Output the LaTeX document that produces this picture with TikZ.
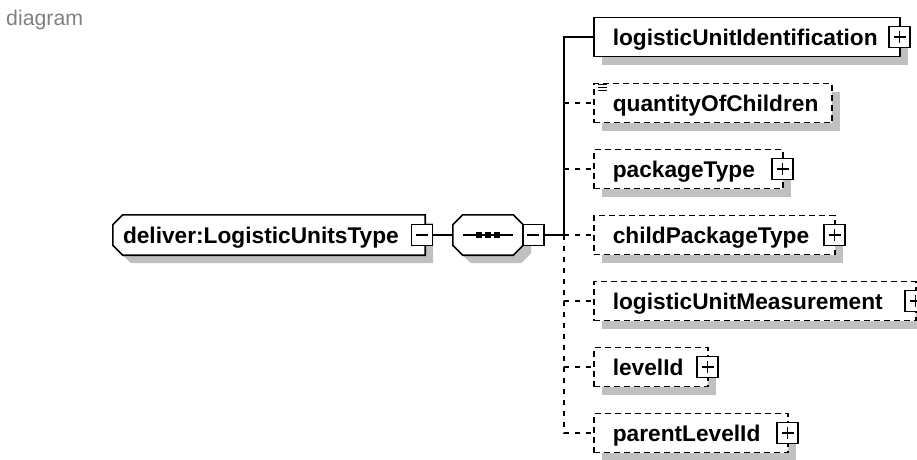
\documentclass[tikz,border=0pt]{standalone}
\usepackage{fontspec}
\setmainfont{Liberation Sans}
\usetikzlibrary{shadows,backgrounds}
\definecolor{shd}{RGB}{192,192,192}
\definecolor{cap}{RGB}{128,128,128}

\begin{document}
\begin{tikzpicture}[x=1pt,y=-1pt,
  lbl/.style={font=\fontsize{22.7}{27}\selectfont\bfseries,text height=16pt,text depth=0pt},
  shade/.style={drop shadow={shadow xshift=8pt,shadow yshift=-8pt,fill=shd,opacity=1}},
  elem/.style={lbl,draw,line width=1.6pt,fill=white,shade,anchor=west,inner xsep=19pt,inner ysep=0pt,minimum height=39pt,align=left},
  opt/.style={elem,dash pattern=on 6pt off 4pt},
  shadowpart/.style={fill=shd,transform canvas={shift={(8pt,-8pt)}}},
  outlinepart/.style={fill=white,draw,line width=1.6pt},
  link/.style={line width=1.5pt},
  minusbox/.style={draw,fill=white,line width=1.4pt,minimum size=21pt,inner sep=0pt,
    path picture={\draw[line width=1.4pt] ([xshift=-6pt]path picture bounding box.center)--([xshift=6pt]path picture bounding box.center);}},
  plusbox/.style={minusbox,
    path picture={\draw[line width=1.4pt] ([xshift=-6pt]path picture bounding box.center)--([xshift=6pt]path picture bounding box.center)
      ([yshift=-6pt]path picture bounding box.center)--([yshift=6pt]path picture bounding box.center);}}]
  \useasboundingbox (0,0) rectangle (917,459);
  \node[font=\fontsize{21.3}{25}\selectfont,text=cap,anchor=base west,inner sep=0pt] (title) at (6,25) {diagram};

  \node[lbl,minimum width=312pt,minimum height=40pt,inner sep=0pt,text width=292pt,align=left] (main) at (269,235) {deliver:LogisticUnitsType};
  \node[minusbox] (mainM) at ([xshift=-3pt]main.east) {};
  \node[minimum width=70pt,minimum height=40pt,inner sep=0pt] (seq) at (488,235) {};
  \begin{scope}[on background layer]
    \foreach \s in {shadowpart,outlinepart} {
      \path[\s] ([xshift=10pt]main.north west) -- (main.north east) -- (main.south east) -- ([xshift=10pt]main.south west)
        -- ([yshift=10pt]main.south west) -- ([yshift=-10pt]main.north west) -- cycle;
      \path[\s] ([xshift=10pt]seq.north west) -- ([xshift=-10pt]seq.north east) -- ([yshift=-10pt]seq.north east) -- ([yshift=10pt]seq.south east)
        -- ([xshift=-10pt]seq.south east) -- ([xshift=10pt]seq.south west) -- ([yshift=10pt]seq.south west) -- ([yshift=-10pt]seq.north west) -- cycle;
    }
  \end{scope}
  \draw[link] ([xshift=10pt]seq.west) -- ([xshift=-10pt]seq.east);
  \foreach \d in {-9,0,9} \fill ([shift={(\d-3,-3)}]seq.center) rectangle ([shift={(\d+3,3)}]seq.center);
  \node[minusbox,anchor=west] (seqM) at ([xshift=-1pt]seq.east) {};
  \coordinate (bus) at (564,235);

  \node[elem,text width=268pt] (lui) at (593,37) {logisticUnitIdentification};
  \node[opt,text width=200pt] (qoc) at (593,103) {\mbox{quantityOfChildren}};
  \node[opt,text width=151pt] (pkt) at (593,169) {packageType};
  \node[opt,text width=203pt] (cpt) at (593,235) {childPackageType};
  \node[opt,text width=284pt] (lum) at (593,301) {logisticUnitMeasurement};
  \node[opt,text width=76pt] (lvl) at (593,367) {levelId};
  \node[opt,text width=156pt] (plv) at (593,433) {parentLevelId};
  \foreach \n in {lui,pkt,cpt,lum,lvl,plv} \node[plusbox] (\n-p) at ([xshift=-1pt]\n.east) {};
  \foreach \d in {2,5,8} \draw[line width=1.2pt] ([xshift=5pt,yshift=-\d pt]qoc.north west) -- ++(9,0);

  \draw[link] (mainM) -- (seq);
  \draw[link] (seqM) -- (bus);
  \foreach \n in {qoc,pkt,cpt,lum,lvl,plv} \draw[link,dash pattern=on 5pt off 6pt] (bus) |- (\n);
  \draw[link] (bus) |- (lui);
\end{tikzpicture}
\end{document}
